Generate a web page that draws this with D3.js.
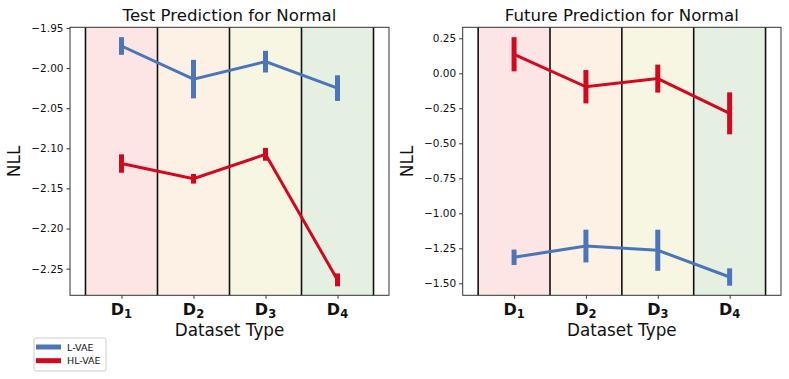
<!DOCTYPE html>
<html>
<head>
<meta charset="utf-8">
<script src="https://cdn.jsdelivr.net/npm/d3@7"></script>
<style>
  body { margin: 0; background: #fff; }
  svg { font-family: "DejaVu Sans", sans-serif; }
</style>
</head>
<body>
<svg id="chart" width="789" height="379"></svg>
<script>
'use strict'

var categories = ["1", "2", "3", "4"];
var seriesNames = ["L-VAE", "HL-VAE"];
var seriesColors = ["#4a76b9", "#d3081f"];
var bandColors = ["#fde4e5", "#fdf1e5", "#f6f6e3", "#e5f0e3"];

// test prediction panel
var testLMean = [-1.9725, -2.0138, -1.992, -2.025];
var testLErr = [0.011, 0.024, 0.0135, 0.016];
var testHLMean = [-2.119, -2.138, -2.1075, -2.264];
var testHLErr = [0.0115, 0.006, 0.008, 0.008];
var testTicks = [-1.95, -2.00, -2.05, -2.10, -2.15, -2.20, -2.25];

// future prediction panel
var futLMean = [-1.314, -1.234, -1.264, -1.455];
var futLErr = [0.055, 0.117, 0.147, 0.062];
var futHLMean = [0.136, -0.096, -0.038, -0.286];
var futHLErr = [0.122, 0.119, 0.10, 0.15];
var futTicks = [0.25, 0.00, -0.25, -0.50, -0.75, -1.00, -1.25, -1.50];

var svg = d3.select("#chart");

function drawPanel(cfg) {
  var g = svg.append("g");
  var x = d3.scaleLinear().domain([-0.715, 3.715]).range([cfg.left, cfg.right]);
  var y = d3.scaleLinear().domain(cfg.yDomain).range([cfg.bottom, cfg.top]);

  // shaded bands
  g.selectAll("rect.band").data(categories).enter().append("rect")
    .attr("x", function(d, i) { return x(i - 0.5); })
    .attr("width", function(d, i) { return x(i + 0.5) - x(i - 0.5); })
    .attr("y", cfg.top)
    .attr("height", cfg.bottom - cfg.top)
    .style("fill", function(d, i) { return bandColors[i]; });

  // separators
  g.selectAll("line.sep").data(d3.range(5)).enter().append("line")
    .attr("x1", function(d) { return x(d - 0.5); })
    .attr("x2", function(d) { return x(d - 0.5); })
    .attr("y1", cfg.top).attr("y2", cfg.bottom)
    .style("stroke", "#111").style("stroke-width", 1.6);

  var series = [
    { mean: cfg.lMean, err: cfg.lErr, color: seriesColors[0] },
    { mean: cfg.hlMean, err: cfg.hlErr, color: seriesColors[1] }
  ];

  var line = d3.line()
    .x(function(d, i) { return x(i); })
    .y(function(d) { return y(d); });

  series.forEach(function(s) {
    g.append("path")
      .datum(s.mean)
      .attr("d", line)
      .style("fill", "none")
      .style("stroke", s.color)
      .style("stroke-width", 3);
    g.selectAll(null).data(s.mean).enter().append("line")
      .attr("x1", function(d, i) { return x(i); })
      .attr("x2", function(d, i) { return x(i); })
      .attr("y1", function(d, i) { return y(d - s.err[i]); })
      .attr("y2", function(d, i) { return y(d + s.err[i]); })
      .style("stroke", s.color)
      .style("stroke-width", 5);
  });

  // frame
  g.append("rect")
    .attr("x", cfg.left).attr("y", cfg.top)
    .attr("width", cfg.right - cfg.left).attr("height", cfg.bottom - cfg.top)
    .style("fill", "none").style("stroke", "#333").style("stroke-width", 1);

  // y axis
  var yAxis = g.append("g")
    .attr("transform", "translate(" + cfg.left + ",0)")
    .call(d3.axisLeft(y).tickValues(cfg.yTicks).tickSize(3.5).tickPadding(3)
      .tickFormat(function(d) { return d3.format(".2f")(d).replace("-", "\u2212"); }));
  yAxis.select(".domain").remove();
  yAxis.selectAll("text").style("font-size", "10.5px").style("fill", "#111")
    .style("font-family", "DejaVu Sans");
  yAxis.selectAll("line").style("stroke", "#333");

  // x axis
  var xAxis = g.append("g")
    .attr("transform", "translate(0," + cfg.bottom + ")")
    .call(d3.axisBottom(x).tickValues(d3.range(categories.length)).tickSize(3.5).tickFormat(""));
  xAxis.select(".domain").remove();
  xAxis.selectAll("line").style("stroke", "#333");

  var lbl = g.selectAll("text.cat").data(categories).enter().append("text")
    .attr("x", function(d, i) { return x(i); })
    .attr("y", cfg.bottom + 20)
    .attr("text-anchor", "middle")
    .style("font-size", "16px").style("font-weight", "bold").style("fill", "#111");
  lbl.append("tspan").text("D");
  lbl.append("tspan").attr("dy", 3).style("font-size", "11.5px").text(function(d) { return d; });

  g.append("text")
    .attr("x", (cfg.left + cfg.right) / 2)
    .attr("y", cfg.bottom + 40.5)
    .attr("text-anchor", "middle")
    .style("font-size", "16.8px").style("fill", "#111")
    .text("Dataset Type");

  g.append("text")
    .attr("transform", "translate(" + cfg.yLabelX + "," + ((cfg.top + cfg.bottom) / 2) + ") rotate(-90)")
    .attr("text-anchor", "middle")
    .style("font-size", "17px").style("fill", "#111")
    .text("NLL");

  g.append("text")
    .attr("x", (cfg.left + cfg.right) / 2)
    .attr("y", cfg.top - 6)
    .attr("text-anchor", "middle")
    .style("font-size", "16.6px").style("fill", "#111")
    .text(cfg.title);
}

drawPanel({
  title: "Test Prediction for Normal",
  left: 70, right: 389, top: 27.3, bottom: 295.3,
  yDomain: [-2.2832, -1.9492],
  yTicks: testTicks,
  lMean: testLMean, lErr: testLErr, hlMean: testHLMean, hlErr: testHLErr,
  yLabelX: 20
});

drawPanel({
  title: "Future Prediction for Normal",
  left: 462.7, right: 781, top: 27.3, bottom: 295.3,
  yDomain: [-1.5857, 0.3286],
  yTicks: futTicks,
  lMean: futLMean, lErr: futLErr, hlMean: futHLMean, hlErr: futHLErr,
  yLabelX: 413
});

// legend
var legend = svg.append("g").attr("transform", "translate(34,338)");
legend.append("rect")
  .attr("width", 72).attr("height", 33).attr("rx", 2)
  .style("fill", "#fff").style("stroke", "#ccc").style("stroke-width", 1);
seriesNames.forEach(function(name, i) {
  legend.append("line")
    .attr("x1", 2).attr("x2", 27)
    .attr("y1", 9 + i * 13.7).attr("y2", 9 + i * 13.7)
    .style("stroke", seriesColors[i]).style("stroke-width", 5);
  legend.append("text")
    .attr("x", 33).attr("y", 12.5 + i * 13.7)
    .style("font-size", "9.5px").style("fill", "#111")
    .text(name);
});
</script>
</body>
</html>
